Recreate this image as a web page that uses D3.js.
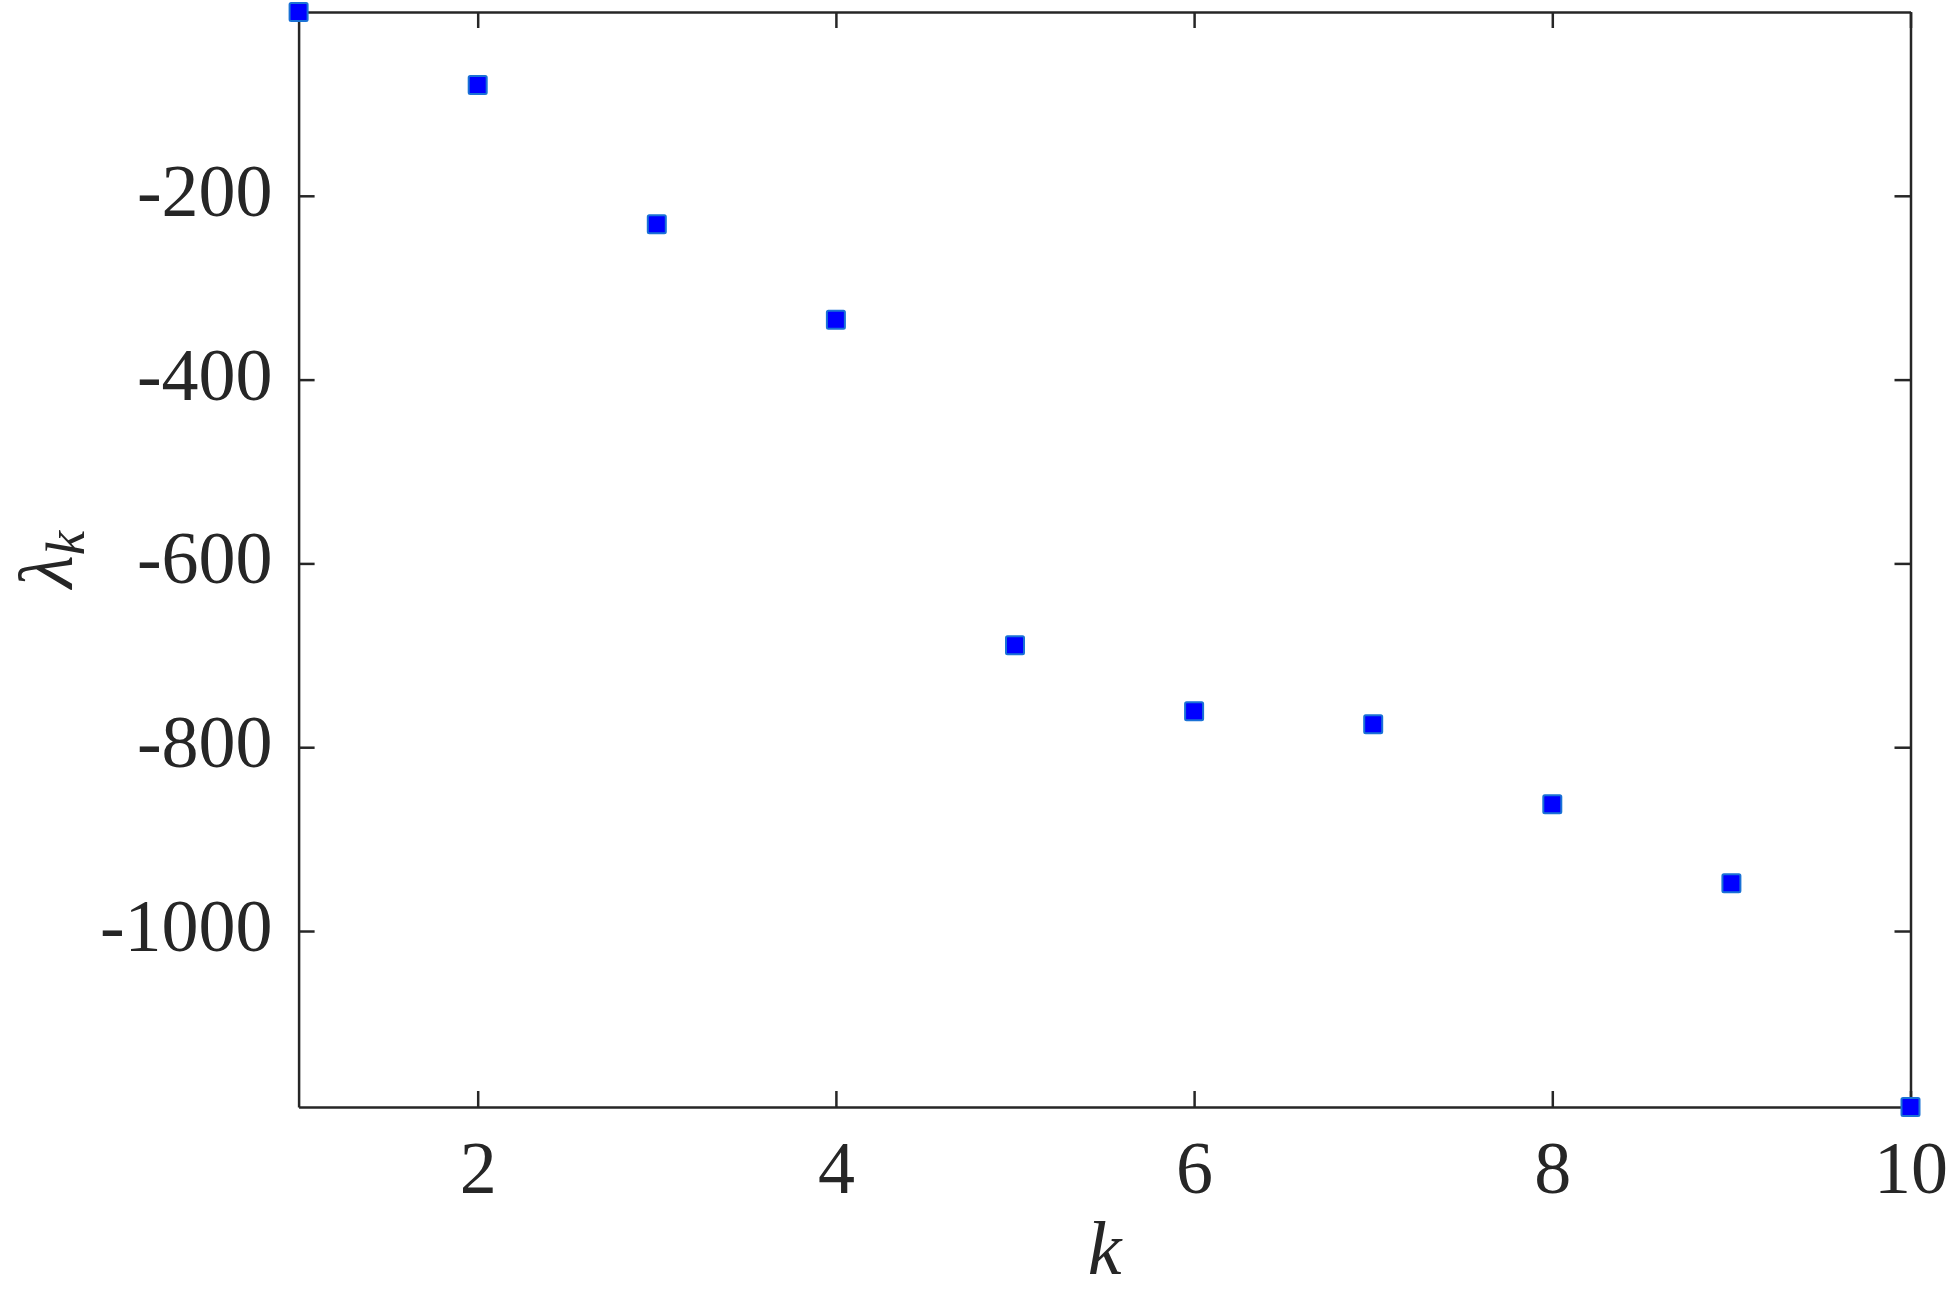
<!DOCTYPE html>
<html>
<head>
<meta charset="utf-8">
<script src="https://cdn.jsdelivr.net/npm/d3@7"></script>
<style>
  body { margin: 0; background: #fff; }
  .axis path, .axis line { stroke: #262626; stroke-width: 2.5px; }
  .axis text { font-family: "Liberation Serif", serif; font-size: 74px; fill: #262626; }
</style>
</head>
<body>
<svg width="1947" height="1294"></svg>
<script>
/*
Data: eigenvalue index k and eigenvalue lambda_k
*/
var kValues = [1, 2, 3, 4, 5, 6, 7, 8, 9, 10];
var lambdaValues = [0, -79.5, -231, -335, -689, -761, -775, -862, -948, -1191.5];
var xTicks = [2, 4, 6, 8, 10];
var yTicks = [-1000, -800, -600, -400, -200];

/*
SVG/Group/Margin Declarations
*/
var svg = d3.select("svg"),
    margin = {top: 12, right: 36.5, bottom: 187, left: 298.6},
    width = svg.attr("width") - margin.left - margin.right,
    height = svg.attr("height") - margin.top - margin.bottom,
    g = svg.append("g").attr("transform", "translate(" + margin.left + "," + margin.top + ")");

var points = kValues.map(function(k, i) { return {k: k, lambda: lambdaValues[i]}; });

/*
Scales: tight to the data like the original
*/
var xScale = d3.scaleLinear().domain(d3.extent(kValues)).range([0, width]),
    yScale = d3.scaleLinear().domain(d3.extent(lambdaValues)).range([height, 0]);

/*
Box with inward ticks on all four sides
*/
g.append("g")
    .attr("class", "axis axis--x")
    .attr("transform", "translate(0," + height + ")")
    .call(d3.axisBottom(xScale).tickValues(xTicks).tickSize(-16).tickSizeOuter(0).tickPadding(0))
    .selectAll("text").attr("y", 86).attr("dy", 0);

g.append("g")
    .attr("class", "axis axis--top")
    .call(d3.axisTop(xScale).tickValues(xTicks).tickSize(-16).tickSizeOuter(0).tickFormat(""));

g.append("g")
    .attr("class", "axis axis--y")
    .call(d3.axisLeft(yScale).tickValues(yTicks).tickSize(-16).tickSizeOuter(0).tickPadding(26)
        .tickFormat(function(d) { return "-" + Math.abs(d); }))
    .selectAll("text").attr("dy", 19.5);

g.append("g")
    .attr("class", "axis axis--right")
    .attr("transform", "translate(" + width + ",0)")
    .call(d3.axisRight(yScale).tickValues(yTicks).tickSize(-16).tickSizeOuter(0).tickFormat(""));

/*
Axis labels
*/
svg.append("text")
    .attr("x", margin.left + width / 2)
    .attr("y", 1274)
    .attr("text-anchor", "middle")
    .style("font-family", "Liberation Serif, serif")
    .style("font-style", "italic")
    .style("font-size", "76px")
    .style("fill", "#262626")
    .text("k");

var yLabel = svg.append("text")
    .attr("transform", "translate(72," + (margin.top + height / 2) + ")rotate(-90)")
    .attr("text-anchor", "middle")
    .style("font-family", "Liberation Serif, serif")
    .style("font-style", "italic")
    .style("font-size", "76px")
    .style("fill", "#262626");
yLabel.append("tspan").text("λ");
yLabel.append("tspan").attr("dy", 12).style("font-size", "55px").text("k");

/*
Square markers
*/
g.selectAll(".pt")
    .data(points)
    .enter().append("rect")
    .attr("class", "pt")
    .attr("x", function(d) { return xScale(d.k) - 9; })
    .attr("y", function(d) { return yScale(d.lambda) - 9; })
    .attr("width", 18)
    .attr("height", 18)
    .attr("rx", 1.5)
    .style("fill", "#0000ff")
    .style("stroke", "#1a72d6")
    .style("stroke-width", 2);
</script>
</body>
</html>
